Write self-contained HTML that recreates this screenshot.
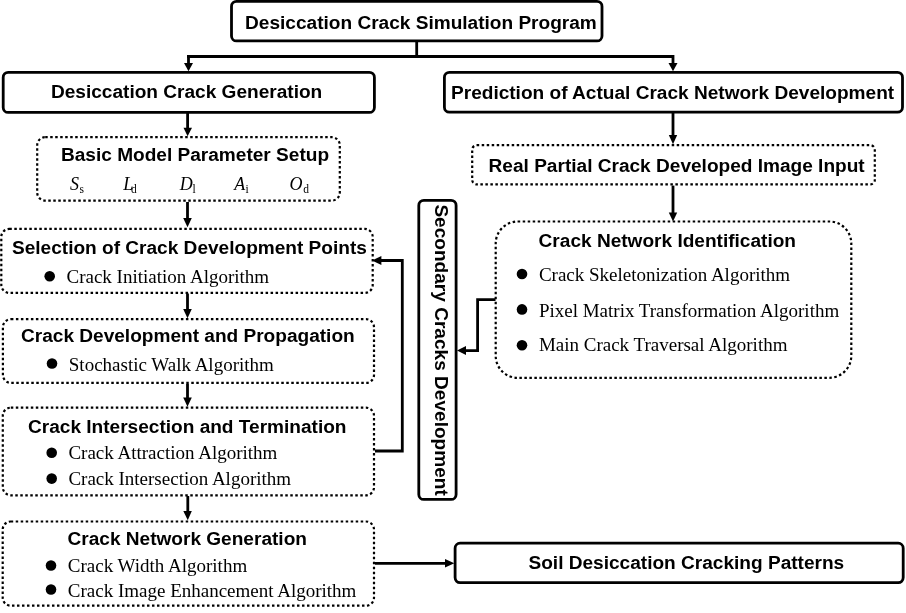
<!DOCTYPE html>
<html><head><meta charset="utf-8"><style>
html,body{margin:0;padding:0;background:#fff;}
svg{display:block;filter:grayscale(1);}
.b{font-family:"Liberation Sans",sans-serif;font-weight:bold;font-size:19.07px;fill:#000;}
.s{font-family:"Liberation Serif",serif;font-size:19px;fill:#000;}
.i{font-family:"Liberation Serif",serif;font-style:italic;font-size:18px;fill:#000;}
.sub{font-family:"Liberation Serif",serif;font-size:11.5px;fill:#000;}
.box{fill:none;stroke:#000;stroke-width:2.8;}
.dot{fill:none;stroke:#000;stroke-width:2.2;stroke-dasharray:2.5 2.5;}
.ln{fill:none;stroke:#000;stroke-width:2.8;}
</style></head><body>
<svg width="906" height="613" viewBox="0 0 906 613">
<rect x="0" y="0" width="906" height="613" fill="#fff"/>
<!-- solid boxes -->
<rect class="box" x="231.5" y="1.4" width="370.5" height="39.5" rx="5"/>
<text class="b" x="245.1" y="28.7">Desiccation Crack Simulation Program</text>

<rect class="box" x="3.2" y="72.4" width="371.2" height="40" rx="5"/>
<text class="b" x="51" y="97.7">Desiccation Crack Generation</text>

<rect class="box" x="444.4" y="72.4" width="458.1" height="39.8" rx="5"/>
<text class="b" x="451" y="98.9">Prediction of Actual Crack Network Development</text>

<rect class="box" x="418.8" y="200.4" width="37.3" height="299" rx="5"/>
<text class="b" transform="translate(435,204.4) rotate(90)" x="0" y="0">Secondary Cracks Development</text>

<rect class="box" x="455.1" y="543.2" width="448.1" height="39.4" rx="5"/>
<text class="b" x="528.5" y="569.3">Soil Desiccation Cracking Patterns</text>

<!-- dotted boxes -->
<rect class="dot" x="37.2" y="137.2" width="302.6" height="63.4" rx="8"/>
<text class="b" x="61" y="160.8">Basic Model Parameter Setup</text>

<rect class="dot" x="1.3" y="228.9" width="371.4" height="64" rx="8"/>
<text class="b" x="12" y="253.9">Selection of Crack Development Points</text>
<circle cx="49.7" cy="276.3" r="5.3"/>
<text class="s" x="66.5" y="283.3">Crack Initiation Algorithm</text>

<rect class="dot" x="2.9" y="319.2" width="371.1" height="63.7" rx="8"/>
<text class="b" x="21" y="341.8">Crack Development and Propagation</text>
<circle cx="52" cy="363.5" r="5.3"/>
<text class="s" x="68.8" y="370.8">Stochastic Walk Algorithm</text>

<rect class="dot" x="2.8" y="407.7" width="371.2" height="87.6" rx="8"/>
<text class="b" x="28" y="432.9">Crack Intersection and Termination</text>
<circle cx="51.7" cy="452.7" r="5.3"/>
<text class="s" x="68.4" y="459.3">Crack Attraction Algorithm</text>
<circle cx="51.7" cy="478.6" r="5.3"/>
<text class="s" x="68.4" y="485.4">Crack Intersection Algorithm</text>

<rect class="dot" x="2.7" y="521.5" width="371.3" height="84.2" rx="8"/>
<text class="b" x="67.5" y="544.7">Crack Network Generation</text>
<circle cx="51" cy="565.5" r="5.3"/>
<text class="s" x="67.8" y="572">Crack Width Algorithm</text>
<circle cx="51" cy="589.5" r="5.3"/>
<text class="s" x="67.8" y="596.5">Crack Image Enhancement Algorithm</text>

<rect class="dot" x="472.2" y="145.2" width="402.6" height="39.2" rx="4.5"/>
<text class="b" x="488.6" y="171.7">Real Partial Crack Developed Image Input</text>

<rect class="dot" x="495.7" y="221.5" width="355.6" height="156.3" rx="22"/>
<text class="b" x="538.6" y="247.2">Crack Network Identification</text>
<circle cx="522" cy="274" r="5.3"/>
<text class="s" x="538.9" y="281.2">Crack Skeletonization Algorithm</text>
<circle cx="522" cy="309.4" r="5.3"/>
<text class="s" x="538.9" y="316.5">Pixel Matrix Transformation Algorithm</text>
<circle cx="522" cy="345.2" r="5.3"/>
<text class="s" x="538.9" y="351.4">Main Crack Traversal Algorithm</text>

<!-- symbols -->
<text class="i" x="70" y="189.9">S</text><text class="sub" x="79.5" y="192.8">s</text>
<text class="i" x="123.2" y="189.9">L</text><text class="sub" x="131" y="192.8">d</text>
<text class="i" x="179.7" y="189.9">D</text><text class="sub" x="192.5" y="192.8">l</text>
<text class="i" x="234.2" y="189.9">A</text><text class="sub" x="245.5" y="192.8">i</text>
<text class="i" x="289.5" y="189.9">O</text><text class="sub" x="303.2" y="192.8">d</text>

<!-- connectors -->
<path class="ln" d="M416.7 41 V56.5 M187 56.5 H674.4 M188.5 56.5 V64 M673 56.5 V64"/>
<polygon points="184,63 193,63 188.5,71.2"/>
<polygon points="668.5,63 677.5,63 673,71.2"/>

<path class="ln" d="M187.6 113 V128"/>
<polygon points="183.5,127.8 192,127.8 187.6,136.3"/>
<path class="ln" d="M187.5 202 V218.5"/>
<polygon points="183.2,218 191.8,218 187.5,227.3"/>
<path class="ln" d="M187.5 293.5 V309"/>
<polygon points="183.2,309 191.8,309 187.5,318.2"/>
<path class="ln" d="M187.5 384 V398"/>
<polygon points="183.2,397.5 191.8,397.5 187.5,406.7"/>
<path class="ln" d="M187.8 496 V511.5"/>
<polygon points="183.3,511 191.8,511 187.8,520.2"/>

<path class="ln" d="M673 113 V136"/>
<polygon points="668.8,135 677.2,135 673,144.3"/>
<path class="ln" d="M673 185.6 V213"/>
<polygon points="668.8,212.5 677.2,212.5 673,221.5"/>

<path class="ln" d="M375 451 H402.3 V260.5 H381"/>
<polygon points="381.4,256 381.4,265 372,260.5"/>

<path class="ln" d="M495.5 299.6 H477.6 V350.6 H465"/>
<polygon points="466,346.1 466,355.1 457,350.6"/>

<path class="ln" d="M375 563.3 H446"/>
<polygon points="445,559 445,567.6 454.3,563.3"/>
</svg>
</body></html>
